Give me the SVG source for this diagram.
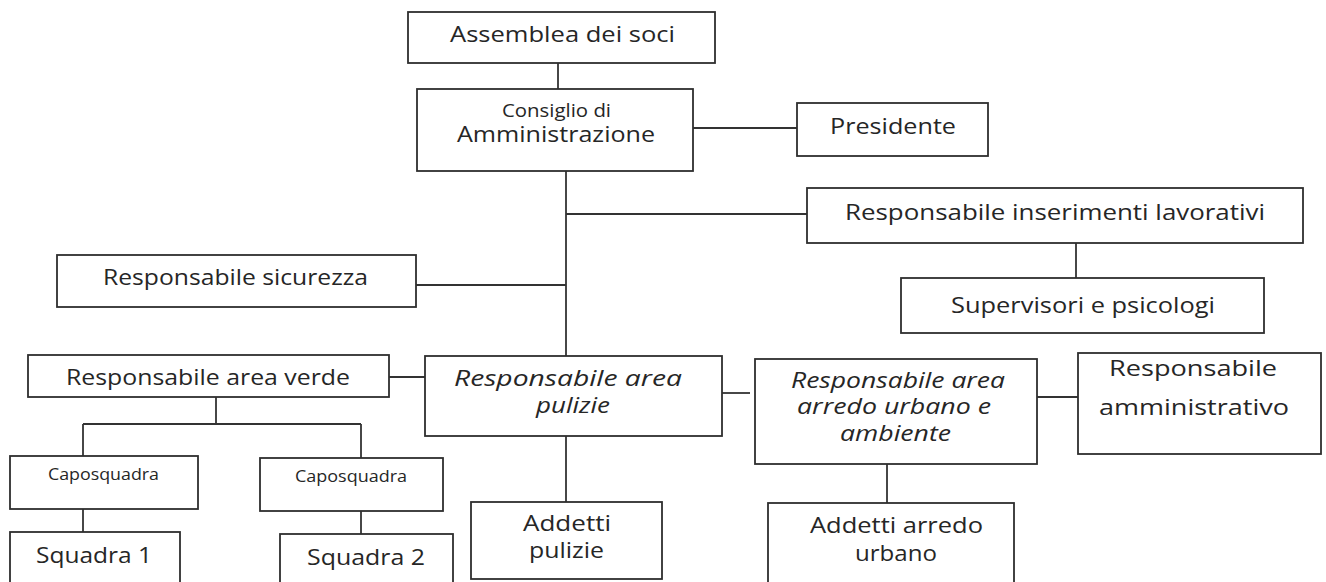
<svg xmlns="http://www.w3.org/2000/svg" width="1326" height="582" viewBox="0 0 1326 582">
<style>
.b{fill:#fff;stroke:#2e2e2e;stroke-width:1.8}
.c line{stroke:#333;stroke-width:1.8}
text{font-family:"Open Sans","Liberation Sans",sans-serif;fill:#262626;font-size:21px}
.i{font-style:italic}
.s{font-size:16px}
.m{font-size:18px}
.l{font-size:22px}
</style>
<rect width="1326" height="582" fill="#fff"/>
<g id="connectors" class="c">
<line x1="558" y1="63" x2="558" y2="89"/>
<line x1="693" y1="128" x2="797" y2="128"/>
<line x1="566" y1="171" x2="566" y2="356"/>
<line x1="566" y1="214" x2="807" y2="214"/>
<line x1="416" y1="285" x2="566" y2="285"/>
<line x1="1076" y1="243" x2="1076" y2="278"/>
<line x1="389" y1="377" x2="425" y2="377"/>
<line x1="722" y1="393" x2="750" y2="393"/>
<line x1="1037" y1="397" x2="1078" y2="397"/>
<line x1="216" y1="397" x2="216" y2="424"/>
<line x1="83" y1="424" x2="361" y2="424"/>
<line x1="83" y1="424" x2="83" y2="456"/>
<line x1="361" y1="424" x2="361" y2="458"/>
<line x1="83" y1="509" x2="83" y2="532"/>
<line x1="361" y1="511" x2="361" y2="534"/>
<line x1="566" y1="436" x2="566" y2="502"/>
<line x1="887" y1="464" x2="887" y2="503"/>
</g>
<g id="assemblea"><rect class="b" x="408" y="12" width="307" height="51"/><text x="450" y="42" textLength="225" lengthAdjust="spacingAndGlyphs">Assemblea dei soci</text></g>
<g id="consiglio"><rect class="b" x="417" y="89" width="276" height="82"/><text class="m" x="502" y="117" textLength="109" lengthAdjust="spacingAndGlyphs">Consiglio di</text><text x="457" y="142" textLength="198" lengthAdjust="spacingAndGlyphs">Amministrazione</text></g>
<g id="presidente"><rect class="b" x="797" y="103" width="191" height="53"/><text x="830" y="134" textLength="126" lengthAdjust="spacingAndGlyphs">Presidente</text></g>
<g id="inserimenti"><rect class="b" x="807" y="188" width="496" height="55"/><text x="845" y="220" textLength="420" lengthAdjust="spacingAndGlyphs">Responsabile inserimenti lavorativi</text></g>
<g id="supervisori"><rect class="b" x="901" y="278" width="363" height="55"/><text x="951" y="313" textLength="264" lengthAdjust="spacingAndGlyphs">Supervisori e psicologi</text></g>
<g id="sicurezza"><rect class="b" x="57" y="255" width="359" height="52"/><text x="103" y="285" textLength="265" lengthAdjust="spacingAndGlyphs">Responsabile sicurezza</text></g>
<g id="verde"><rect class="b" x="28" y="355" width="361" height="42"/><text x="66" y="385" textLength="284" lengthAdjust="spacingAndGlyphs">Responsabile area verde</text></g>
<g id="pulizie"><rect class="b" x="425" y="356" width="297" height="80"/><text class="i" x="454" y="386" textLength="228" lengthAdjust="spacingAndGlyphs">Responsabile area</text><text class="i" x="536" y="413" textLength="74" lengthAdjust="spacingAndGlyphs">pulizie</text></g>
<g id="arredo"><rect class="b" x="755" y="359" width="282" height="105"/><text class="i" x="791" y="388" textLength="214" lengthAdjust="spacingAndGlyphs">Responsabile area</text><text class="i" x="797" y="414" textLength="194" lengthAdjust="spacingAndGlyphs">arredo urbano e</text><text class="i" x="840" y="441" textLength="111" lengthAdjust="spacingAndGlyphs">ambiente</text></g>
<g id="amministrativo"><rect class="b" x="1078" y="353" width="243" height="101"/><text x="1109" y="376" textLength="168" lengthAdjust="spacingAndGlyphs">Responsabile</text><text x="1099" y="415" textLength="190" lengthAdjust="spacingAndGlyphs">amministrativo</text></g>
<g id="caposquadra1"><rect class="b" x="10" y="456" width="188" height="53"/><text class="s" x="48" y="480" textLength="111" lengthAdjust="spacingAndGlyphs">Caposquadra</text></g>
<g id="caposquadra2"><rect class="b" x="260" y="458" width="183" height="53"/><text class="s" x="295" y="482" textLength="112" lengthAdjust="spacingAndGlyphs">Caposquadra</text></g>
<g id="squadra1"><rect class="b" x="10" y="532" width="170" height="60"/><text class="l" x="36" y="563" textLength="116" lengthAdjust="spacingAndGlyphs">Squadra 1</text></g>
<g id="squadra2"><rect class="b" x="280" y="534" width="173" height="60"/><text class="l" x="307" y="565" textLength="118" lengthAdjust="spacingAndGlyphs">Squadra 2</text></g>
<g id="addetti-pulizie"><rect class="b" x="471" y="502" width="191" height="77"/><text x="523" y="531" textLength="88" lengthAdjust="spacingAndGlyphs">Addetti</text><text x="529" y="558" textLength="75" lengthAdjust="spacingAndGlyphs">pulizie</text></g>
<g id="addetti-arredo"><rect class="b" x="768" y="503" width="246" height="90"/><text x="810" y="533" textLength="173" lengthAdjust="spacingAndGlyphs">Addetti arredo</text><text x="855" y="561" textLength="82" lengthAdjust="spacingAndGlyphs">urbano</text></g>
</svg>
